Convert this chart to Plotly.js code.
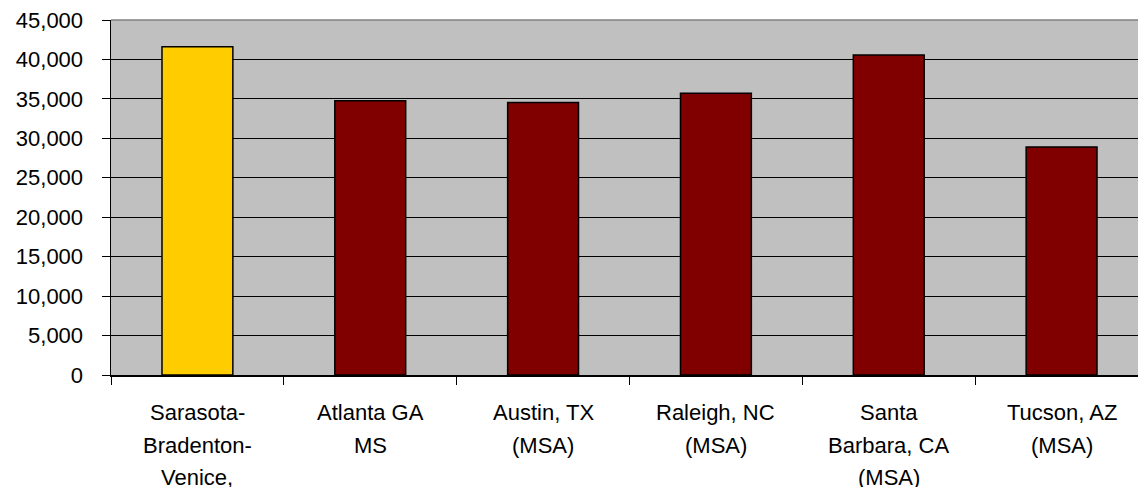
<!DOCTYPE html>
<html>
<head>
<meta charset="utf-8">
<script src="https://cdn.plot.ly/plotly-3.0.1.min.js"></script>
<style>
  html, body { margin: 0; padding: 0; background: #ffffff; overflow: hidden; }
  #chart { width: 1150px; height: 487px; }
</style>
</head>
<body>
<div id="chart"></div>
<script>
// Metro areas compared
const categories = ['Sarasota', 'Atlanta', 'Austin', 'Raleigh', 'Santa Barbara', 'Tucson'];
// Category labels, one entry per text line
const labelLines = [
  ['Sarasota-', 'Bradenton-', 'Venice,'],
  ['Atlanta GA', 'MS'],
  ['Austin, TX', '(MSA)'],
  ['Raleigh, NC', '(MSA)'],
  ['Santa', 'Barbara, CA', '(MSA)'],
  ['Tucson, AZ', '(MSA)']
];
// Values per metro area
const values = [41600, 34750, 34550, 35700, 40550, 28900];
const barColors = ['#FFCC00', '#800000', '#800000', '#800000', '#800000', '#800000'];

const FONT = { family: '"Liberation Sans", Arial, sans-serif', size: 22, color: '#000000' };
const LINE_GAP = 32.5;

const trace = {
  type: 'bar',
  x: categories,
  y: values,
  marker: { color: barColors, line: { color: '#000000', width: 1.5 } },
  hoverinfo: 'skip'
};

// Category labels drawn line by line below the axis
const annotations = [];
labelLines.forEach((lines, i) => {
  lines.forEach((line, j) => {
    annotations.push({
      x: categories[i], xref: 'x',
      y: 0, yref: 'paper',
      yanchor: 'middle', xanchor: 'center',
      yshift: -37.5 - j * LINE_GAP,
      text: line, showarrow: false,
      font: FONT
    });
  });
});

const layout = {
  width: 1150, height: 487,
  margin: { l: 111, r: 2, t: 20, b: 112, pad: 0 },
  paper_bgcolor: '#ffffff',
  plot_bgcolor: '#C0C0C0',
  font: FONT,
  showlegend: false,
  bargap: 0.59,
  xaxis: {
    type: 'category',
    showticklabels: false,
    ticks: 'outside', tickson: 'boundaries', ticklen: 8, tickwidth: 1, tickcolor: '#000000',
    showline: true, linecolor: '#000000', linewidth: 1.5,
    showgrid: false, zeroline: false, fixedrange: true
  },
  yaxis: {
    range: [0, 45000], dtick: 5000, tickformat: ',d',
    ticks: 'outside', ticklen: 8, tickwidth: 1, tickcolor: '#000000',
    ticklabelstandoff: 14,
    showline: true, linecolor: '#000000', linewidth: 1.5,
    showgrid: true, gridcolor: '#000000', gridwidth: 1,
    zeroline: false, fixedrange: true
  },
  shapes: [{
    type: 'line', xref: 'paper', yref: 'paper',
    x0: 0, x1: 1, y0: 1, y1: 1,
    line: { color: '#808080', width: 1.5 }
  }],
  annotations: annotations
};

Plotly.newPlot('chart', [trace], layout, { displayModeBar: false, staticPlot: true });
</script>
</body>
</html>
